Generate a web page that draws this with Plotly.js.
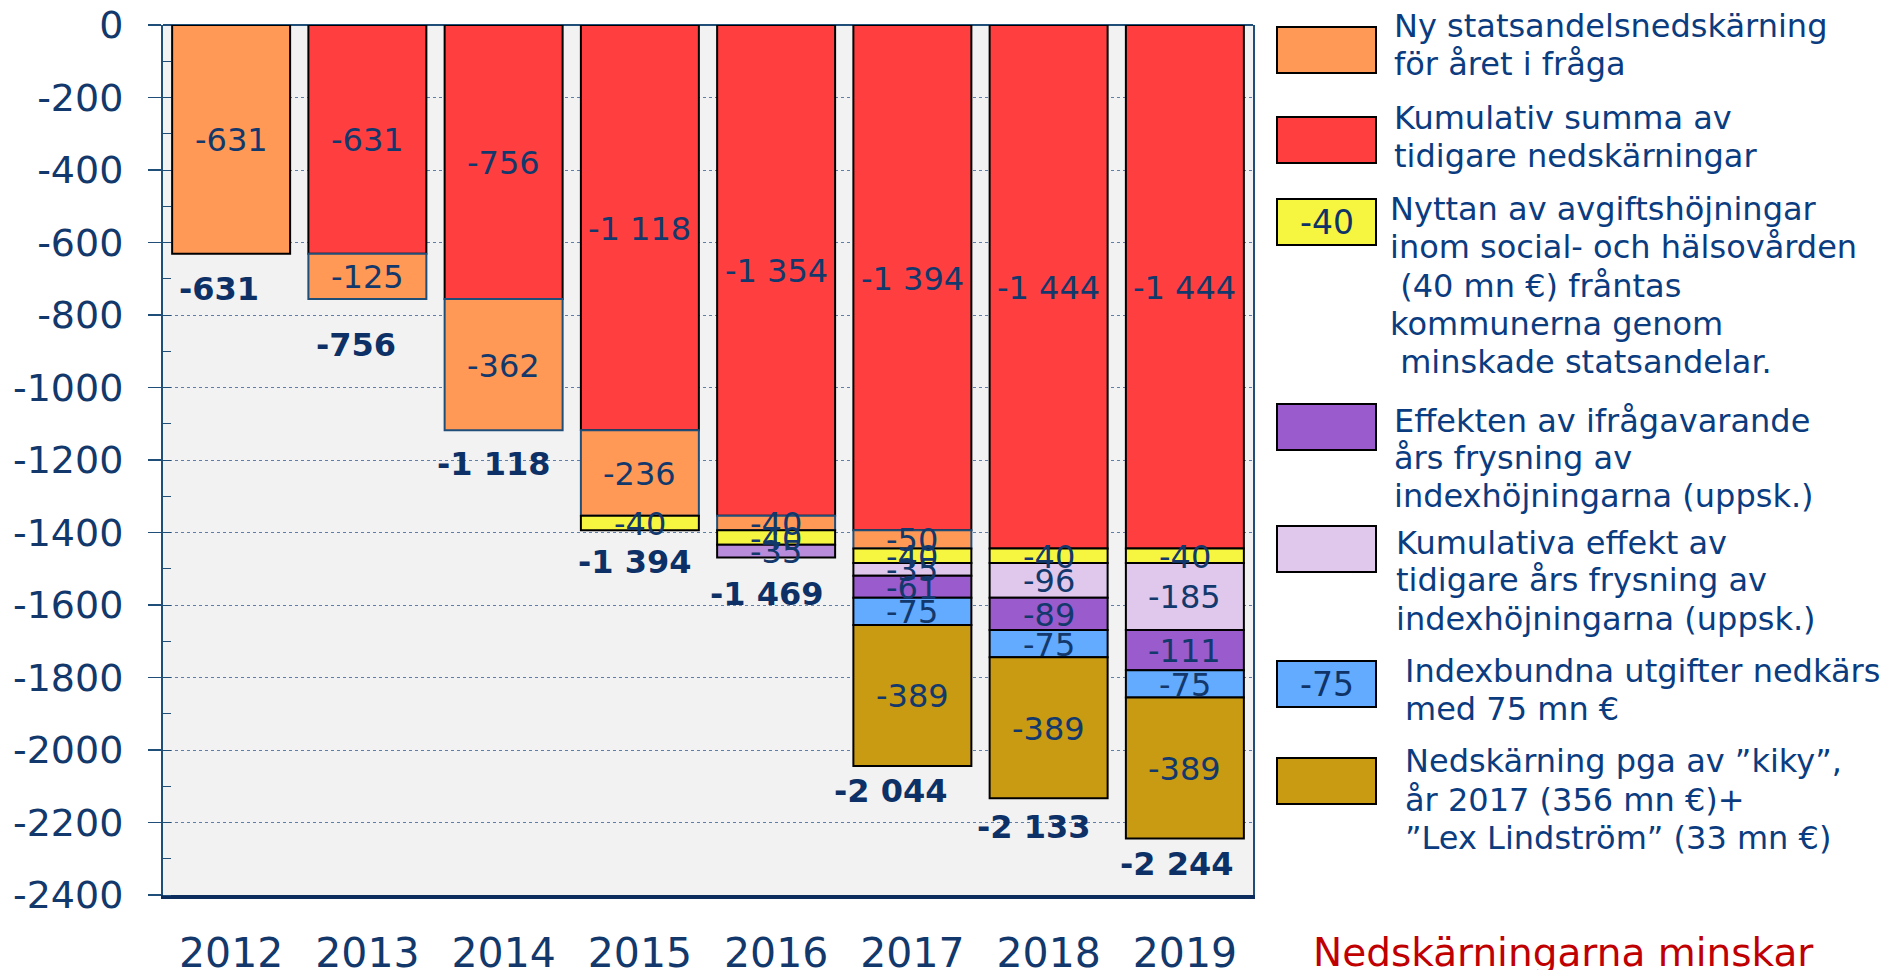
<!DOCTYPE html>
<html><head><meta charset="utf-8">
<script src="https://cdn.plot.ly/plotly-3.0.1.min.js"></script>
<style>html,body{margin:0;padding:0;background:#fff;overflow:hidden}</style>
</head><body><div id="chart" style="width:1890px;height:970px"></div>
<script>
// ---------- DATA ----------
const years = ['2012','2013','2014','2015','2016','2017','2018','2019'];
const kumulativ        = [null,-631,-756,-1118,-1354,-1394,-1444,-1444];
const nyNedskarning    = [-631,-125,-362,-236,-40,-50,null,null];
const avgiftshojning   = [null,null,null,-40,-40,-40,-40,-40];
const kumulativFrysning= [null,null,null,null,null,-35,-96,-185];
const arsFrysning      = [null,null,null,null,-35,-61,-89,-111];
const indexbundna      = [null,null,null,null,null,-75,-75,-75];
const kiky             = [null,null,null,null,null,-389,-389,-389];
const yTickVals = [0,-200,-400,-600,-800,-1000,-1200,-1400,-1600,-1800,-2000,-2200,-2400];
const yTickText = ['0','-200','-400','-600','-800','-1000','-1200','-1400','-1600','-1800','-2000','-2200','-2400'];
const legendLines = {
  ny:  ['Ny statsandelsnedskärning','för året i fråga'],
  kum: ['Kumulativ summa av','tidigare nedskärningar'],
  avg: ['Nyttan av avgiftshöjningar','inom social- och hälsovården','\u00A0(40 mn €) fråntas','kommunerna genom','\u00A0minskade statsandelar.'],
  ars: ['Effekten av ifrågavarande','års frysning av','indexhöjningarna (uppsk.)'],
  kumf:['Kumulativa effekt av','tidigare års frysning av','indexhöjningarna (uppsk.)'],
  idx: ['Indexbundna utgifter nedkärs','med 75 mn €'],
  kiky:['Nedskärning pga av ”kiky”,','år 2017 (356 mn €)+','”Lex Lindström” (33 mn €)']
};
const footerText = 'Nedskärningarna minskar';

// ---------- STYLE ----------
const NAVY = '#1F4E79';
const C = {
  red:'#FF3F3F', orange:'#FF9955', yellow:'#F6F640', lilac:'#DFC8EC',
  purple:'#9A5BCC', purpleLight:'#B98BDB', blue:'#62ABFF', gold:'#C89B12'
};
const labelColor = '#12386C';
const legendColor = '#0B3C80';
const FONT = 'DejaVu Sans, Verdana, sans-serif';
// placement of the bold total labels relative to each bar bottom (pixels)
const totalDx = [-12,-11,-10,-5,-10,-22,-15,-8];
const totalDy = [35,46,34,32,36,25,29,26];

const series = [
  {vals:kumulativ, color:C.red, line:'#000'},
  {vals:nyNedskarning, color:C.orange, line:nyNedskarning.map((v,i)=> i===0 ? '#000' : NAVY)},
  {vals:avgiftshojning, color:C.yellow, line:'#000'},
  {vals:kumulativFrysning, color:C.lilac, line:'#000'},
  {vals:arsFrysning, color:arsFrysning.map((v,i)=> years[i]==='2016' ? C.purpleLight : C.purple), line:'#000'},
  {vals:indexbundna, color:C.blue, line:'#000'},
  {vals:kiky, color:C.gold, line:'#000'}
];

function fmt(v){
  const s = String(Math.abs(v)).replace(/\B(?=(\d{3})+(?!\d))/g,' ');
  return (v<0?'-':'') + s;
}

const traces = series.map(s => ({
  type:'bar', x:years, y:s.vals,
  marker:{color:s.color, line:{color:s.line, width:2}},
  hoverinfo:'skip', showlegend:false
}));

const annotations = [];
// segment labels (on top of all bars)
const base = years.map(()=>0);
series.forEach(s=>{
  s.vals.forEach((v,i)=>{
    if(v===null||v===undefined) return;
    annotations.push({x:i, y:base[i]+v/2, xref:'x', yref:'y', text:fmt(v), showarrow:false,
      xanchor:'center', yanchor:'middle', yshift:-1, borderpad:0,
      font:{family:FONT, size:32, color:labelColor}});
    base[i]+=v;
  });
});

// totals
years.forEach((yr,i)=>annotations.push({
  x:i, y:base[i], xref:'x', yref:'y', text:'<b>'+fmt(base[i])+'</b>',
  showarrow:false, yanchor:'middle', xanchor:'center', yshift:-totalDy[i], xshift:totalDx[i], borderpad:0,
  font:{family:FONT, size:32, color:'#0D3166'}
}));

// legend (drawn)
const L=163, R=1253, T=25, B=895;
const px=p=>(p-L)/(R-L), py=p=>(B-p)/(B-T);
const legendItems = [
  {color:C.orange, y0:27,  lines:legendLines.ny,   tx:1393, c:[26,64]},
  {color:C.red,    y0:117, lines:legendLines.kum,  tx:1393, c:[118,156]},
  {color:C.yellow, y0:199, lines:legendLines.avg,  tx:1389, c:[209,247,285.6,324,362], inner:fmt(avgiftshojning[3])},
  {color:C.purple, y0:404, lines:legendLines.ars,  tx:1393, c:[421,458,495.5]},
  {color:C.lilac,  y0:526, lines:legendLines.kumf, tx:1395, c:[542.5,580,618.5]},
  {color:C.blue,   y0:661, lines:legendLines.idx,  tx:1404, c:[671,709], inner:fmt(indexbundna[5])},
  {color:C.gold,   y0:758, lines:legendLines.kiky, tx:1404, c:[761,800,838]}
];
const shapes=[];
legendItems.forEach(it=>{
  shapes.push({type:'rect', xref:'paper', yref:'paper', x0:px(1277), x1:px(1376), y0:py(it.y0), y1:py(it.y0+46),
    fillcolor:it.color, line:{color:'#000', width:2}});
  it.lines.forEach((ln,k)=>annotations.push({xref:'paper', yref:'paper', x:px(it.tx), y:py(it.c[k]), xanchor:'left', yanchor:'middle', align:'left',
    text:ln, showarrow:false, borderpad:0, font:{family:FONT, size:32, color:legendColor}}));
  if(it.inner) annotations.push({xref:'paper', yref:'paper', x:px(1326.5), y:py(it.y0+23), xanchor:'center', yanchor:'middle',
    text:it.inner, showarrow:false, borderpad:0, font:{family:FONT, size:33, color:'#0F3366'}});
});
annotations.push({xref:'paper', yref:'paper', x:px(1312), y:py(952), xanchor:'left', yanchor:'middle',
  text:footerText, showarrow:false, borderpad:0, font:{family:FONT, size:39, color:'#C00000'}});

const layout = {
  width:1890, height:970,
  margin:{l:L, r:1890-R, t:T, b:970-B, pad:0},
  paper_bgcolor:'#FFFFFF', plot_bgcolor:'#F2F2F2',
  barmode:'relative', bargap:0.134,
  showlegend:false,
  xaxis:{type:'category', range:[-0.5,7.5], autorange:false, showgrid:false, showline:true, linecolor:'#0D2D5E', linewidth:4,
    ticks:'', ticklabelstandoff:19, tickfont:{family:FONT, size:41, color:labelColor}, automargin:false, fixedrange:true},
  yaxis:{range:[-2400,0], autorange:false, tickvals:yTickVals, ticktext:yTickText, showline:true, mirror:true, linecolor:NAVY, linewidth:2,
    ticks:'outside', ticklen:13, tickwidth:1.5, tickcolor:NAVY, ticklabelstandoff:17,
    minor:{dtick:100, tick0:0, ticks:'inside', ticklen:8, tickcolor:NAVY, tickwidth:1, showgrid:false},
    showgrid:true, gridcolor:'#5F7FA8', gridwidth:1, griddash:'dot',
    zeroline:true, zerolinecolor:NAVY, zerolinewidth:2,
    tickfont:{family:FONT, size:38, color:labelColor}, automargin:false, fixedrange:true},
  shapes:shapes, annotations:annotations
};
Plotly.newPlot('chart', traces, layout, {staticPlot:true, displayModeBar:false});
</script></body></html>
